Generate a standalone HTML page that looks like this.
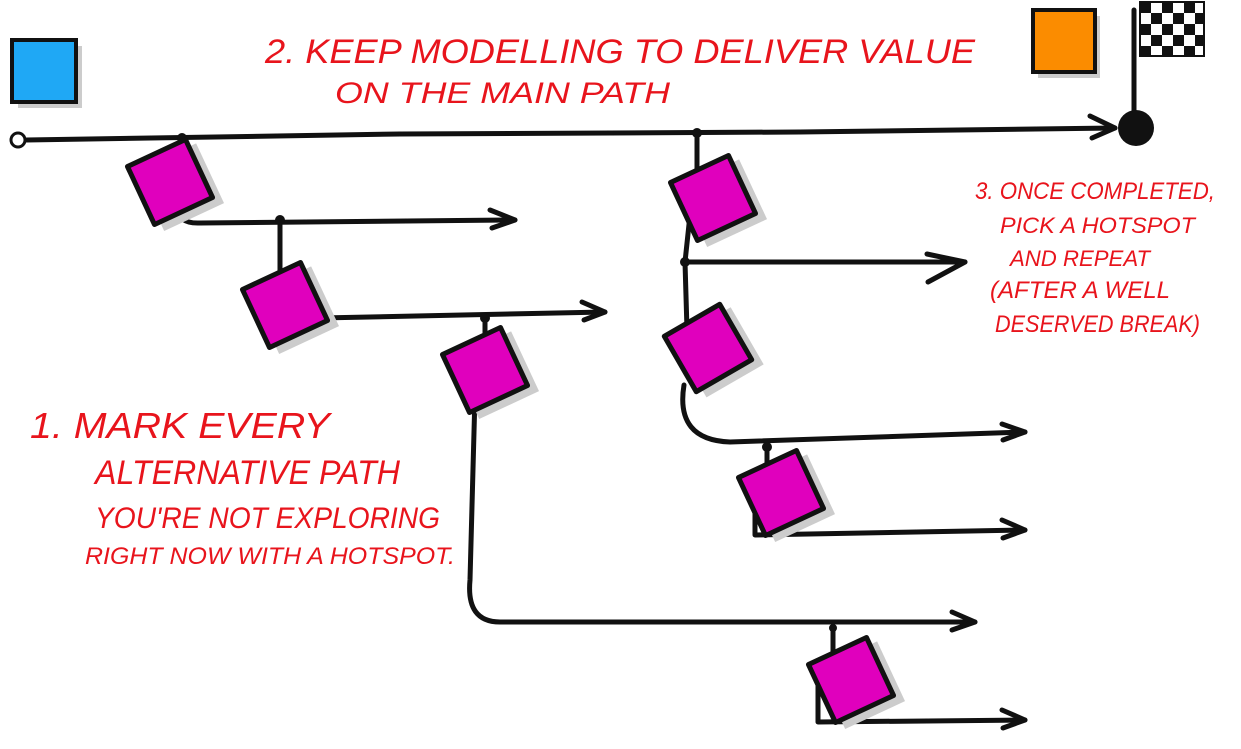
<!DOCTYPE html>
<html><head><meta charset="utf-8"><style>
html,body{margin:0;padding:0;background:#fff;}
svg{display:block;}
text{font-family:"Liberation Sans",sans-serif;font-style:italic;fill:#e8141c;font-weight:normal;}
</style></head><body>
<svg width="1241" height="749" viewBox="0 0 1241 749" xmlns="http://www.w3.org/2000/svg">
<defs>
<g id="sq">
<rect x="-30" y="-30" width="66" height="66" fill="#ccc" transform="translate(4,6)"/>
<rect x="-32" y="-32" width="64" height="64" fill="#e000bd" stroke="#111" stroke-width="5" stroke-linejoin="round"/>
</g>
</defs>
<g fill="none" stroke="#111" stroke-width="5" stroke-linecap="round" stroke-linejoin="round">
<path d="M26,140 L400,134 L800,132 L1115,128"/>
<path d="M1090,116 L1115,128 L1092,138"/>
<circle cx="18" cy="140" r="7" fill="#fff" stroke-width="3"/>
<path d="M182,138 L180,180"/>
<path d="M178,205 Q176,224 200,223 L515,220"/>
<path d="M490,210 L515,220 L492,228"/>
<path d="M280,220 L280,290"/>
<path d="M320,318 L605,312"/>
<path d="M582,302 L605,312 L584,320"/>
<path d="M485,318 L485,345"/>
<path d="M475,395 L470,580 Q466,622 500,622 L975,622"/>
<path d="M952,612 L975,622 L952,630"/>
<path d="M833,628 L833,660"/>
<path d="M818,680 L818,722 L1025,720"/>
<path d="M1002,710 L1025,720 L1003,728"/>
<path d="M697,133 L697,170"/>
<path d="M690,215 L685,262 L687,330"/>
<path d="M685,262 L965,262"/>
<path d="M927,254 L965,262 L928,282"/>
<path d="M684,385 Q675,440 730,442 L1025,432"/>
<path d="M1002,424 L1025,432 L1003,440"/>
<path d="M767,447 L767,475"/>
<path d="M755,490 L755,535 L1025,530"/>
<path d="M1002,520 L1025,530 L1003,538"/>
<path d="M1134,10 L1134,118"/>
</g>
<g fill="#111">
<circle cx="182" cy="138" r="5"/><circle cx="280" cy="220" r="5"/><circle cx="485" cy="318" r="5"/>
<circle cx="697" cy="133" r="5"/><circle cx="685" cy="262" r="5"/><circle cx="767" cy="447" r="5"/><circle cx="833" cy="628" r="4"/>
<circle cx="1136" cy="128" r="18"/>
</g>
<g>
<rect x="1140" y="2" width="64" height="54" fill="#fff" stroke="#111" stroke-width="2"/>
<g fill="#111">
<rect x="1140" y="2" width="11" height="11"/><rect x="1162" y="2" width="11" height="11"/><rect x="1184" y="2" width="11" height="11"/>
<rect x="1151" y="13" width="11" height="11"/><rect x="1173" y="13" width="11" height="11"/><rect x="1195" y="13" width="9" height="11"/>
<rect x="1140" y="24" width="11" height="11"/><rect x="1162" y="24" width="11" height="11"/><rect x="1184" y="24" width="11" height="11"/>
<rect x="1151" y="35" width="11" height="11"/><rect x="1173" y="35" width="11" height="11"/><rect x="1195" y="35" width="9" height="11"/>
<rect x="1140" y="46" width="11" height="10"/><rect x="1162" y="46" width="11" height="10"/><rect x="1184" y="46" width="11" height="10"/>
</g></g>
<rect x="18" y="46" width="64" height="62" fill="#ccc"/>
<rect x="12" y="40" width="64" height="62" fill="#1fa8f5" stroke="#111" stroke-width="4"/>
<rect x="1038" y="16" width="62" height="62" fill="#ccc"/>
<rect x="1033" y="10" width="62" height="62" fill="#fb8c00" stroke="#111" stroke-width="4"/>
<use href="#sq" transform="translate(170,182) rotate(-25)"/>
<use href="#sq" transform="translate(285,305) rotate(-25)"/>
<use href="#sq" transform="translate(485,370) rotate(-25)"/>
<use href="#sq" transform="translate(713,198) rotate(-25)"/>
<use href="#sq" transform="translate(708,348) rotate(-30)"/>
<use href="#sq" transform="translate(781,493) rotate(-25)"/>
<use href="#sq" transform="translate(851,680) rotate(-25)"/>
<text x="265" y="63" font-size="34" textLength="710" lengthAdjust="spacingAndGlyphs">2. KEEP MODELLING TO DELIVER VALUE</text>
<text x="335" y="103" font-size="30" textLength="335" lengthAdjust="spacingAndGlyphs">ON THE MAIN PATH</text>
<text x="975" y="199" font-size="24" textLength="240" lengthAdjust="spacingAndGlyphs">3. ONCE COMPLETED,</text>
<text x="1000" y="233" font-size="22" textLength="195" lengthAdjust="spacingAndGlyphs">PICK A HOTSPOT</text>
<text x="1010" y="266" font-size="22" textLength="140" lengthAdjust="spacingAndGlyphs">AND REPEAT</text>
<text x="990" y="298" font-size="24" textLength="180" lengthAdjust="spacingAndGlyphs">(AFTER A WELL</text>
<text x="995" y="332" font-size="24" textLength="205" lengthAdjust="spacingAndGlyphs">DESERVED BREAK)</text>
<text x="30" y="438" font-size="36" textLength="300" lengthAdjust="spacingAndGlyphs">1. MARK EVERY</text>
<text x="95" y="484" font-size="34" textLength="305" lengthAdjust="spacingAndGlyphs">ALTERNATIVE PATH</text>
<text x="95" y="528" font-size="30" textLength="345" lengthAdjust="spacingAndGlyphs">YOU'RE NOT EXPLORING</text>
<text x="85" y="564" font-size="24" textLength="370" lengthAdjust="spacingAndGlyphs">RIGHT NOW WITH A HOTSPOT.</text>
</svg>
</body></html>
